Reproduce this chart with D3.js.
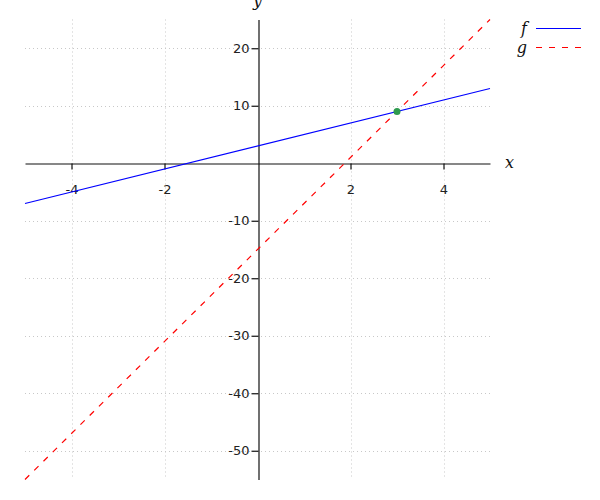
<!DOCTYPE html>
<html>
<head>
<meta charset="utf-8">
<script src="https://cdn.jsdelivr.net/npm/d3@7.9.0/dist/d3.min.js"></script>
<style>
  body { margin: 0; background: #fff; }
</style>
</head>
<body>
<div id="chart"></div>
<script>
const width = 600, height = 500;

// data
const xDomain = [-5, 5];
const yDomain = [-55, 25];
const xTicks = [-4, -2, 2, 4];
const yTicks = [-50, -40, -30, -20, -10, 10, 20];
const fPoints = [[-5, -7], [5, 13]];      // f(x) = 2x + 3
const gPoints = [[-5, -55], [5, 25]];     // g(x) = 8x - 15
const intersection = [[3, 9]];
const legendNames = ["f", "g"];

const x = d3.scaleLinear().domain(xDomain).range([25, 490]);
const y = d3.scaleLinear().domain(yDomain).range([479.5, 19.5]);

const svg = d3.select("#chart").append("svg")
  .attr("width", width)
  .attr("height", height);

// grid
const grid = svg.append("g")
  .attr("stroke", "#c8c8c8")
  .attr("stroke-width", 1)
  .attr("stroke-dasharray", "1,3");

grid.selectAll("line.vx")
  .data(xTicks)
  .join("line")
  .attr("x1", d => Math.round(x(d)) + 0.5)
  .attr("x2", d => Math.round(x(d)) + 0.5)
  .attr("y1", y.range()[1])
  .attr("y2", y.range()[0]);

grid.selectAll("line.hy")
  .data(yTicks)
  .join("line")
  .attr("y1", d => Math.round(y(d)) + 0.5)
  .attr("y2", d => Math.round(y(d)) + 0.5)
  .attr("x1", x.range()[0])
  .attr("x2", x.range()[1]);

// axes through origin
const fmt = d => String(d);

const xAxis = svg.append("g")
  .attr("transform", `translate(0,${Math.round(y(0)) + 0.5})`)
  .call(d3.axisBottom(x).tickValues(xTicks).tickFormat(fmt).tickSize(6).tickSizeOuter(0));

const yAxis = svg.append("g")
  .attr("transform", `translate(${Math.round(x(0)) + 0.5},0)`)
  .call(d3.axisLeft(y).tickValues(yTicks).tickFormat(fmt).tickSize(7).tickSizeOuter(0).tickPadding(2));

[xAxis, yAxis].forEach(a => {
  a.attr("font-family", "DejaVu Sans, sans-serif").attr("font-size", 13);
  a.select(".domain").attr("stroke", "#111").attr("stroke-width", 1.2);
  a.selectAll(".tick line").attr("stroke", "#111").attr("stroke-width", 1.2);
  a.selectAll(".tick text").attr("fill", "#222");
});
xAxis.selectAll(".tick text").attr("dy", "0.32em").attr("y", 26);

// axis labels
svg.append("text")
  .attr("x", x(5) + 15)
  .attr("y", y(0) + 5)
  .attr("font-family", "DejaVu Serif, serif")
  .attr("font-style", "italic")
  .attr("font-size", 16)
  .attr("fill", "#111")
  .text("x");

svg.append("text")
  .attr("x", x(0))
  .attr("y", 6)
  .attr("text-anchor", "middle")
  .attr("font-family", "DejaVu Serif, serif")
  .attr("font-style", "italic")
  .attr("font-size", 16)
  .attr("fill", "#111")
  .text("y");

const line = d3.line().x(d => x(d[0])).y(d => y(d[1]));

svg.append("path")
  .datum(fPoints)
  .attr("d", line)
  .attr("fill", "none")
  .attr("stroke", "blue")
  .attr("stroke-width", 1.2);

svg.append("path")
  .datum(gPoints)
  .attr("d", line)
  .attr("fill", "none")
  .attr("stroke", "red")
  .attr("stroke-width", 1.2)
  .attr("stroke-dasharray", "6,7");

svg.selectAll("circle.pt")
  .data(intersection)
  .join("circle")
  .attr("cx", d => x(d[0]))
  .attr("cy", d => y(d[1]))
  .attr("r", 3.5)
  .attr("fill", "#2e9b4f");

// legend
const legend = svg.append("g");
const legendStyles = [
  { color: "blue", dash: null },
  { color: "red", dash: "6,7" }
];
legendNames.forEach((name, i) => {
  const ly = 28.5 + i * 19;
  legend.append("text")
    .attr("x", 527)
    .attr("y", ly + 5)
    .attr("text-anchor", "end")
    .attr("font-family", "DejaVu Serif, serif")
    .attr("font-style", "italic")
    .attr("font-size", 16)
    .attr("fill", "#111")
    .text(name);
  legend.append("line")
    .attr("x1", 536)
    .attr("x2", 581)
    .attr("y1", ly)
    .attr("y2", ly)
    .attr("stroke", legendStyles[i].color)
    .attr("stroke-width", 1.2)
    .attr("stroke-dasharray", legendStyles[i].dash);
});
</script>
</body>
</html>
